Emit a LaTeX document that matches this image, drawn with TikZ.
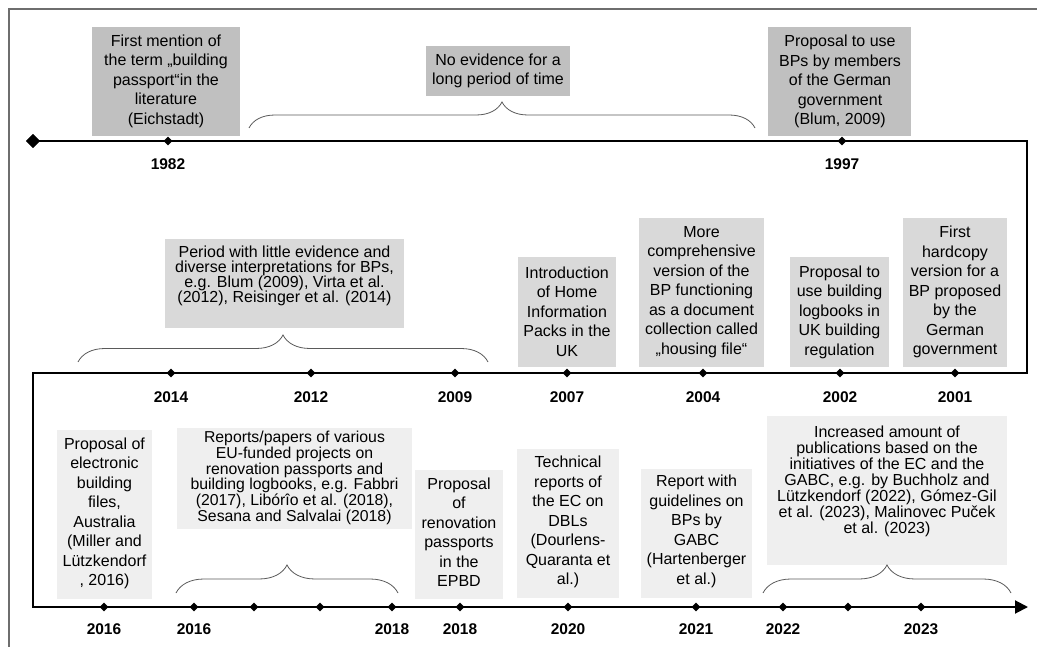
\documentclass[tikz,border=0pt]{standalone}
\usepackage{fontspec}
\setmainfont{Liberation Sans}
\usetikzlibrary{shapes.geometric,arrows.meta,decorations.pathreplacing}
\definecolor{framecol}{HTML}{6E6E6E}
\definecolor{darkbox}{HTML}{C0C0C0}
\definecolor{midbox}{HTML}{D9D9D9}
\definecolor{lightbox}{HTML}{EFEFEF}
\definecolor{bracecol}{HTML}{5A5A5A}
\begin{document}
\begin{tikzpicture}[x=1pt,y=-1pt,
  boxbase/.style={inner sep=0pt, anchor=north west, draw=none},
  darkb/.style={boxbase, fill=darkbox},
  midb/.style={boxbase, fill=midbox},
  lightb/.style={boxbase, fill=lightbox},
  txt/.style={inner sep=0pt, align=center, font=\fontsize{16}{19.5}\selectfont},
  tighttxt/.style={inner sep=0pt, align=center, font=\fontsize{16}{15.6}\selectfont},
  yr/.style={inner sep=0pt, font=\fontsize{15.5}{18}\selectfont\bfseries},
  dot/.style={diamond, fill=black, inner sep=0pt, minimum size=9pt},
  bigdot/.style={diamond, fill=black, inner sep=0pt, minimum size=14pt},
  tl/.style={line width=2pt, black, line join=miter},
  brc/.style={decorate, draw=bracecol, line width=0.8pt},
  framel/.style={draw=framecol, line width=2pt}]
\useasboundingbox (0,0) rectangle (1037,647);
\draw[framel] (9,647) -- (9,9) -- (1037,9);

% ---------- boxes row 1 ----------
\node[darkb, minimum width=148pt, minimum height=109pt] (b1982) at (92,27) {};
\node[txt] (t1982) at (166,81) {First mention of\\the term „building\\passport“in the\\literature\\(Eichstadt)};
\node[darkb, minimum width=144pt, minimum height=50pt] (bnoev) at (426,46) {};
\node[txt] (tnoev) at (498,71) {No evidence for a\\long period of time};
\node[darkb, minimum width=143pt, minimum height=109pt] (b1997) at (768,27) {};
\node[txt] (t1997) at (840,81.5) {Proposal to use\\BPs by members\\of the German\\government\\(Blum, 2009)};

% ---------- boxes row 2 ----------
\node[midb, minimum width=239pt, minimum height=89pt] (bper) at (165,239) {};
\node[tighttxt, font=\fontsize{16}{15}\selectfont] (tper) at (284.5,276) {Period with little evidence and\\diverse interpretations for BPs,\\e.g. Blum (2009), Virta et al.\\(2012), Reisinger et al. (2014)};
\node[midb, minimum width=98pt, minimum height=110pt] (b2007) at (518,257) {};
\node[txt] (t2007) at (567,311.5) {Introduction\\of Home\\Information\\Packs in the\\UK};
\node[midb, minimum width=125pt, minimum height=149pt] (b2004) at (639,218) {};
\node[txt] (t2004) at (701.5,292) {More\\comprehensive\\version of the\\BP functioning\\as a document\\collection called\\„housing file“};
\node[midb, minimum width=99pt, minimum height=110pt] (b2002) at (790,257) {};
\node[txt] (t2002) at (839.5,312) {Proposal to\\use building\\logbooks in\\UK building\\regulation};
\node[midb, minimum width=104pt, minimum height=149pt] (b2001) at (903,218) {};
\node[txt] (t2001) at (955,292) {First\\hardcopy\\version for a\\BP proposed\\by the\\German\\government};

% ---------- boxes row 3 ----------
\node[lightb, minimum width=95pt, minimum height=169pt] (bA) at (57,430) {};
\node[txt] (tA) at (104.5,513.5) {Proposal of\\electronic\\building\\files,\\Australia\\(Miller and\\Lützkendorf\\, 2016)};
\node[lightb, minimum width=235pt, minimum height=101pt] (bB) at (177,428) {};
\node[tighttxt, font=\fontsize{15.8}{15.8}\selectfont] (tB) at (294.5,478) {Reports/papers of various\\EU-funded projects on\\renovation passports and\\building logbooks, e.g. Fabbri\\(2017), Libórîo et al. (2018),\\Sesana and Salvalai (2018)};
\node[lightb, minimum width=88pt, minimum height=129pt] (bC) at (415,470) {};
\node[txt] (tC) at (459,532) {Proposal\\of\\renovation\\passports\\in the\\EPBD};
\node[lightb, minimum width=102pt, minimum height=149pt] (bD) at (517,449) {};
\node[txt] (tD) at (568,522) {Technical\\reports of\\the EC on\\DBLs\\(Dourlens-\\Quaranta et\\al.)};
\node[lightb, minimum width=111pt, minimum height=129pt] (bE) at (641,469) {};
\node[txt] (tE) at (696.5,531.5) {Report with\\guidelines on\\BPs by\\GABC\\(Hartenberger\\et al.)};
\node[lightb, minimum width=240pt, minimum height=149pt] (bF) at (767,416) {};
\node[tighttxt, font=\fontsize{16}{16}\selectfont] (tF) at (887,481.5) {Increased amount of\\publications based on the\\initiatives of the EC and the\\GABC, e.g. by Buchholz and\\Lützkendorf (2022), Gómez-Gil\\et al. (2023), Malinovec Pu\v{c}ek\\et al. (2023)};

% ---------- braces ----------
\coordinate (br1a) at (249,128); \coordinate (br1b) at (755,128);
\coordinate (br2a) at (78,362);  \coordinate (br2b) at (488,362);
\coordinate (br3a) at (176,593); \coordinate (br3b) at (398,593);
\coordinate (br4a) at (763,593); \coordinate (br4b) at (1011,593);
\draw[brc, decoration={brace, amplitude=26pt}] (br1a) -- (br1b);
\draw[brc, decoration={brace, amplitude=27pt}] (br2a) -- (br2b);
\draw[brc, decoration={brace, amplitude=28pt}] (br3a) -- (br3b);
\draw[brc, decoration={brace, amplitude=28pt}] (br4a) -- (br4b);

% ---------- timeline ----------
\coordinate (c1) at (1027,141);
\coordinate (c2) at (1027,373);
\coordinate (c3) at (33,373);
\coordinate (c4) at (33,607);
\coordinate (tend) at (1028,607);
\node[bigdot] (start) at (33,141) {};
\draw[tl, -{Triangle[length=13pt,width=13pt]}] (start.center) -- (c1) -- (c2) -- (c3) -- (c4) -- (tend);
\node[bigdot] at (start) {};

% row 1 diamonds and years
\node[dot] (d1982) at (168,141) {};
\node[dot] (d1997) at (842,141) {};
\node[yr] at (168,164) {1982};
\node[yr] at (842,164) {1997};

% row 2
\foreach \x/\y in {171/2014,311/2012,455/2009,567/2007,703/2004,840/2002,955/2001}{
  \node[dot] (d\y) at (\x,373) {};
  \node[yr] (y\y) at (\x,397) {\y};
}
% row 3
\foreach \x/\n in {104/a,194/b,254/c,320/d,392/e,460/f,568/g,696/h,783/i,848/j,921/k}{
  \node[dot] (r\n) at (\x,607) {};
}
\foreach \x/\y/\n in {104/2016/a,194/2016/b,392/2018/e,460/2018/f,568/2020/g,696/2021/h,783/2022/i,921/2023/k}{
  \node[yr] (ry\n) at (\x,629) {\y};
}
\end{tikzpicture}
\end{document}
